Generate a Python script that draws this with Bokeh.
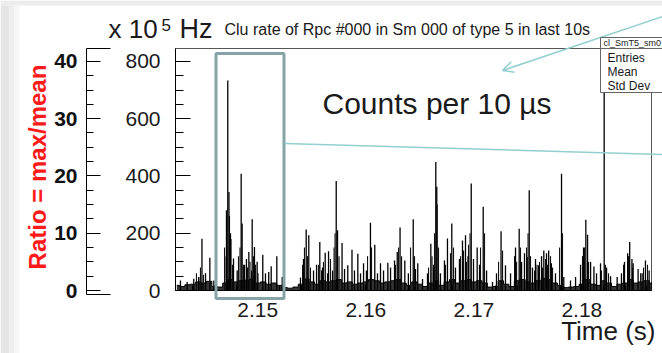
import math
from bokeh.plotting import figure
from bokeh.models import Range1d, LinearAxis, FixedTicker, Label, BoxAnnotation, Arrow, OpenHead
from bokeh.embed import file_html
from bokeh.resources import INLINE

# ---------------- data ----------------
# isolated spikes of the 10 us histogram: time (s) and counts
spike_t = [2.14284, 2.14346, 2.14407, 2.14454, 2.14483, 2.14516, 2.14556, 2.14593,
           2.14710, 2.14722, 2.14733, 2.14747, 2.14775, 2.14809, 2.14846, 2.14855,
           2.14877, 2.14895, 2.14917, 2.14948, 2.14969, 2.14994, 2.15046, 2.15071,
           2.15101, 2.15124, 2.15176, 2.15226, 2.15395, 2.15423, 2.15448, 2.15472,
           2.15516, 2.15544, 2.15574, 2.15599, 2.15624, 2.15655, 2.15692, 2.15726,
           2.15738, 2.15780, 2.15803, 2.15833, 2.15872, 2.15895, 2.15926, 2.15951,
           2.15979, 2.16006, 2.16043, 2.16083, 2.16108, 2.16136, 2.16164, 2.16204,
           2.16229, 2.16266, 2.16291, 2.16317, 2.16361, 2.16394, 2.16439, 2.16460,
           2.16481, 2.16525, 2.16571, 2.16602, 2.16627, 2.16648, 2.16657, 2.16691,
           2.16728, 2.16756, 2.16796, 2.16830, 2.16867, 2.16895, 2.16923, 2.16946,
           2.16976, 2.16997, 2.17031, 2.17053, 2.17087, 2.17118, 2.17173, 2.17210,
           2.17252, 2.17293, 2.17340, 2.17386, 2.17420, 2.17442, 2.17469, 2.17494,
           2.17513, 2.17543, 2.17571, 2.17599, 2.17627, 2.17648, 2.17673, 2.17693,
           2.17718, 2.17756, 2.17812, 2.17833, 2.17895, 2.17942, 2.17988, 2.18016,
           2.18037, 2.18053, 2.18081, 2.18112, 2.18136, 2.18173, 2.18207, 2.18229,
           2.18266, 2.18327, 2.18367, 2.18395, 2.18424, 2.18443, 2.18464, 2.18475,
           2.18521, 2.18558, 2.18589, 2.18623]
spike_h = [35, 30, 41, 47, 181, 60, 114, 35,
           280, 733, 344, 200, 112, 70, 408, 234,
           90, 110, 134, 249, 152, 100, 125, 60,
           65, 85, 120, 47, 45, 110, 213, 193,
           70, 90, 169, 80, 132, 137, 70, 382,
           210, 166, 75, 88, 142, 70, 128, 60,
           95, 70, 237, 160, 60, 95, 70, 97,
           80, 105, 134, 220, 105, 60, 249, 75,
           95, 40, 60, 163, 90, 449, 362, 60,
           105, 182, 234, 80, 110, 175, 193, 120,
           374, 110, 150, 90, 292, 70, 30, 60,
           207, 88, 60, 150, 216, 100, 130, 117,
           350, 80, 110, 88, 120, 140, 130, 140,
           95, 60, 408, 47, 35, 47, 90, 150,
           247, 195, 100, 84, 60, 95, 1200, 80,
           50, 47, 60, 100, 130, 169, 110, 95,
           75, 60, 105, 70]

# extra bins inside the dense bursts (time s, counts)
burst_t = [2.14432, 2.14451, 2.14469, 2.14497, 2.14692, 2.14706, 2.14738, 2.14752, 2.14766,
           2.14821, 2.14835, 2.14868, 2.14905, 2.14928, 2.14942, 2.14960, 2.14979, 2.15002,
           2.15414, 2.15432, 2.15460, 2.15488, 2.15562, 2.15590, 2.15608, 2.15645, 2.15673,
           2.15706, 2.15715, 2.15752, 2.16016, 2.16053, 2.16275, 2.16303, 2.16331, 2.16414,
           2.16451, 2.16581, 2.16613, 2.16636, 2.16661, 2.16673, 2.16738, 2.16784, 2.16812,
           2.16877, 2.16905, 2.16932, 2.16951, 2.16965, 2.17062, 2.17099, 2.17229, 2.17266,
           2.17377, 2.17396, 2.17432, 2.17488, 2.17502, 2.17525, 2.17562, 2.17585, 2.17608,
           2.17636, 2.17664, 2.17682, 2.17710, 2.17729, 2.17794, 2.17821, 2.18006, 2.18025,
           2.18062, 2.18182, 2.18219, 2.18247, 2.18386, 2.18432, 2.18469, 2.18544, 2.18571,
           2.18608]
burst_h = [60, 45, 80, 55, 150, 120, 260, 180, 90,
           120, 150, 90, 80, 100, 70, 120, 90, 60,
           90, 150, 120, 80, 90, 70, 100, 60, 110,
           150, 200, 120, 120, 150, 90, 150, 120, 150,
           120, 80, 120, 200, 300, 150, 90, 130, 150,
           120, 140, 100, 160, 200, 150, 200, 100, 140,
           120, 100, 150, 150, 200, 120, 70, 90, 100,
           80, 110, 90, 120, 80, 150, 200, 120, 150,
           100, 70, 90, 60, 90, 120, 80, 60, 80,
           90]

# dense low-level floor of the histogram (counts), every 0.5 ms
floor_t = [2.1425, 2.1430, 2.1435, 2.1440, 2.1445, 2.1450, 2.1455, 2.1460, 2.1465, 2.1470,
           2.1475, 2.1480, 2.1485, 2.1490, 2.1495, 2.1500, 2.1505, 2.1510, 2.1515, 2.1520,
           2.1525, 2.1530, 2.1535, 2.1540, 2.1545, 2.1550, 2.1555, 2.1560, 2.1565, 2.1570,
           2.1575, 2.1580, 2.1585, 2.1590, 2.1595, 2.1600, 2.1605, 2.1610, 2.1615, 2.1620,
           2.1625, 2.1630, 2.1635, 2.1640, 2.1645, 2.1650, 2.1655, 2.1660, 2.1665, 2.1670,
           2.1675, 2.1680, 2.1685, 2.1690, 2.1695, 2.1700, 2.1705, 2.1710, 2.1715, 2.1720,
           2.1725, 2.1730, 2.1735, 2.1740, 2.1745, 2.1750, 2.1755, 2.1760, 2.1765, 2.1770,
           2.1775, 2.1780, 2.1785, 2.1790, 2.1795, 2.1800, 2.1805, 2.1810, 2.1815, 2.1820,
           2.1825, 2.1830, 2.1835, 2.1840, 2.1845, 2.1850, 2.1855, 2.1860, 2.1865]
floor_h = [18, 14, 20, 22, 30, 26, 32, 14, 12, 26,
           38, 30, 34, 36, 40, 26, 30, 22, 26, 18,
           10, 8, 12, 22, 40, 30, 22, 34, 30, 34,
           38, 26, 30, 22, 26, 30, 38, 34, 26, 30,
           34, 38, 26, 18, 30, 22, 14, 26, 34, 18,
           30, 38, 26, 34, 38, 30, 34, 26, 12, 14,
           34, 22, 14, 34, 38, 30, 26, 34, 42, 38,
           26, 18, 10, 12, 14, 22, 38, 22, 18, 34,
           26, 14, 22, 26, 38, 26, 30, 34, 26]

x_ticks = [2.15, 2.16, 2.17, 2.18]
x_tick_labels = ["2.15", "2.16", "2.17", "2.18"]
x_minor = [2.144, 2.146, 2.148, 2.152, 2.154, 2.156, 2.158, 2.162, 2.164, 2.166,
           2.168, 2.172, 2.174, 2.176, 2.178, 2.182, 2.184, 2.186]
count_ticks = [0, 200, 400, 600, 800]
count_minor = [50, 100, 150, 250, 300, 350, 450, 500, 550, 650, 700, 750]
ratio_ticks = [0, 10, 20, 30, 40]
ratio_minor = [2.5, 5, 7.5, 12.5, 15, 17.5, 22.5, 25, 27.5, 32.5, 35, 37.5]

# ---------------- layout: histogram frame in canvas px ----------------
W, H = 662, 353
FL, FR, FT, FB = 175, 651, 48, 290
X0, X1 = 2.14238, 2.18645          # time span of the histogram frame
Y0, Y1 = 0.0, 845.0                # counts span of the histogram frame
MEAN = 20.0                        # ratio = counts / mean


def dx(px):
    return X0 + (px - FL) / (FR - FL) * (X1 - X0)


def dy(py):
    return Y0 + (FB - py) / (FB - FT) * (Y1 - Y0)


FONT = "Liberation Sans"
TXT = "#1a1a1a"
TEAL = "#93cfd0"
BOXC = "#86a3a5"

p = figure(width=W, height=H, output_backend="svg", toolbar_location=None,
           x_range=Range1d(dx(0), dx(W)), y_range=Range1d(dy(H), dy(0)),
           min_border=0, min_border_left=0, min_border_right=0,
           min_border_top=0, min_border_bottom=0,
           background_fill_color="white", border_fill_color="white",
           outline_line_color=None)
p.grid.visible = False

# slide shadow at the top and left edges
p.add_layout(BoxAnnotation(left=dx(0), right=dx(W), top=dy(0), bottom=dy(5),
                           fill_color="#ececec", fill_alpha=1, line_alpha=0, level="underlay"))
for x_a, x_b, col in ((0, 9, "#e6e6e6"), (9, 14, "#eeeeee"), (14, 19, "#f6f6f6")):
    p.add_layout(BoxAnnotation(left=dx(x_a), right=dx(x_b), top=dy(5), bottom=dy(H),
                               fill_color=col, fill_alpha=1, line_alpha=0, level="underlay"))

# histogram (ROOT clips bins at the frame top)
shown_h = [min(h, Y1) for h in spike_h]
p.varea_step(x=floor_t, y1=[0] * len(floor_t), y2=floor_h, step_mode="center",
             fill_color="black", fill_alpha=0.8)
p.step(x=floor_t, y=floor_h, mode="center", line_color="black", line_width=1)
p.segment(x0=burst_t, y0=[0] * len(burst_t), x1=burst_t, y1=burst_h,
          line_color="#111111", line_width=1.1)
p.segment(x0=spike_t, y0=[0] * len(spike_t), x1=spike_t, y1=shown_h,
          line_color="black", line_width=1.3)

# frame
p.add_layout(BoxAnnotation(left=X0, right=X1, bottom=Y0, top=Y1, fill_alpha=0,
                           line_color="#555555", line_alpha=1, line_width=1, level="underlay"))
p.segment(x0=[X0, X0], y0=[Y0, Y0], x1=[X1, X0], y1=[Y0, Y1], line_color="black", line_width=1)

# x axis
xa = p.xaxis[0]
xa.fixed_location = Y0
xa.ticker = FixedTicker(ticks=x_ticks, minor_ticks=x_minor)
xa.major_label_overrides = dict(zip(x_ticks, x_tick_labels))
xa.major_tick_in, xa.major_tick_out = 6, 0
xa.minor_tick_in, xa.minor_tick_out = 5, 0
xa.major_label_text_font_size = "21px"
xa.major_label_text_font = FONT
xa.major_label_text_color = TXT
xa.major_label_standoff = 12
xa.axis_line_color = None

# counts axis
ya = p.yaxis[0]
ya.fixed_location = X0
ya.ticker = FixedTicker(ticks=count_ticks, minor_ticks=count_minor)
ya.major_tick_in, ya.major_tick_out = 15, 0
ya.minor_tick_in, ya.minor_tick_out = 8, 0
ya.major_label_text_font_size = "21px"
ya.major_label_text_font = FONT
ya.major_label_text_color = TXT
ya.major_label_standoff = 15
ya.axis_line_color = None

# ratio axis
RX = dx(86)
p.extra_y_ranges = {"ratio": Range1d(dy(H) / MEAN, dy(0) / MEAN)}
ra = LinearAxis(y_range_name="ratio", fixed_location=RX)
ra.ticker = FixedTicker(ticks=ratio_ticks, minor_ticks=ratio_minor)
ra.major_tick_in, ra.major_tick_out = 14, 0
ra.minor_tick_in, ra.minor_tick_out = 7, 0
ra.major_label_text_font_size = "21px"
ra.major_label_text_font = FONT
ra.major_label_text_font_style = "bold"
ra.major_label_text_color = "#111111"
ra.major_label_standoff = 9
ra.axis_line_color = None
p.add_layout(ra, "left")

# ratio axis line with its caps
RT, RB = dy(48), dy(294)
RXC = dx(110)
p.segment(x0=[RX, RX, RX], y0=[RB, RT, RB], x1=[RX, RXC, RXC], y1=[RT, RT, RB],
          line_color="black", line_width=1)

# highlight box and teal pointers
p.add_layout(BoxAnnotation(left=dx(215.5), right=dx(283.5), top=dy(53), bottom=dy(298),
                           fill_alpha=0, line_color=BOXC, line_alpha=1, line_width=3))
p.add_layout(Arrow(end=None, x_start=dx(284), y_start=dy(143), x_end=dx(662), y_end=dy(154),
                   line_color=TEAL, line_width=1.5))
p.add_layout(Arrow(end=OpenHead(size=11, line_color=TEAL, line_width=1.5),
                   x_start=dx(662), y_start=dy(16), x_end=dx(502), y_end=dy(70),
                   line_color=TEAL, line_width=1.5))

# stats box
p.add_layout(BoxAnnotation(left=dx(600), right=dx(675), top=dy(37), bottom=dy(92),
                           fill_color="white", fill_alpha=1, line_color="#666666",
                           line_alpha=1, line_width=1))
p.add_layout(Arrow(end=None, x_start=dx(600), y_start=dy(48), x_end=dx(675), y_end=dy(48),
                   line_color="#666666", line_width=1))


def lab(text, px, py, size, align="left", color=TXT, style="normal", angle=0.0):
    # py is the vertical centre of the capital letters
    p.add_layout(Label(x=dx(px), y=dy(py), text=text, text_font=FONT, text_font_size=size,
                       text_align=align, text_baseline="middle", text_color=color,
                       text_font_style=style, angle=angle))


lab("cl_SmT5_sm0", 603, 42.5, "9px")
lab("Entries", 607, 57.5, "12px")
lab("Mean", 607, 71, "12px")
lab("Std Dev", 607, 85, "12px")

lab("x 10", 108, 28, "26px")
lab("5", 161, 24.5, "17px")
lab("Hz", 179, 28, "27px")
lab("Clu rate of Rpc #000 in Sm 000 of type 5 in last 10s", 224, 28.8, "16px")
lab("Counts per 10 \u00b5s", 322, 103, "30px")
lab("Time (s)", 655, 330, "26px", align="right")
lab("Ratio = max/mean", 37, 166.5, "24px", align="center", color="#ff1a1a",
    style="bold", angle=math.pi / 2)

open("out.html", "w").write(file_html(p, INLINE))
